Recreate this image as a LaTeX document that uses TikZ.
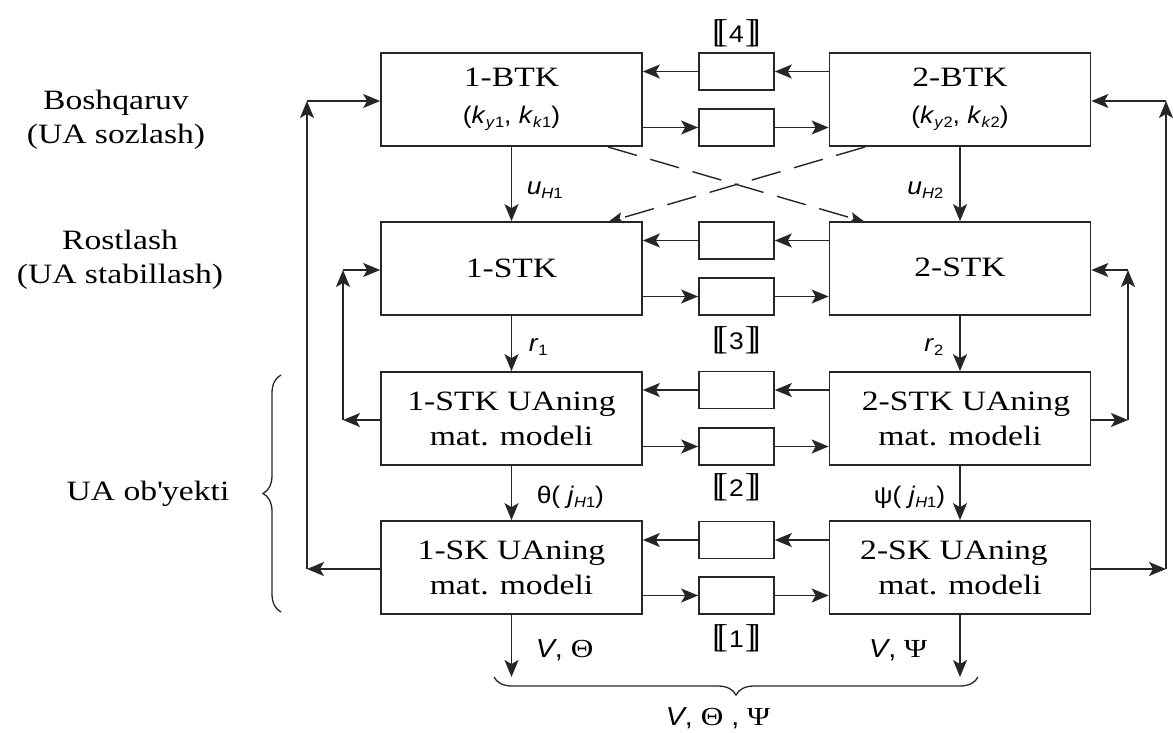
\documentclass[tikz,border=0pt]{standalone}
\usepackage{fontspec}
\setmainfont{Liberation Serif}[FakeStretch=1.2]
\newfontfamily\lab{Liberation Sans}[FakeStretch=1.1]
\newfontfamily\brk{Liberation Serif}
\usetikzlibrary{arrows.meta,decorations.pathreplacing}
\newcommand\lsub[1]{\raisebox{-0.35ex}{\fontsize{15}{17}\selectfont #1}}
\newcommand\dbr[1]{{\brk\fontsize{33}{38}\selectfont[\kern-0.19em[\kern0.03em{\lab\fontsize{24}{28}\selectfont #1}\kern0.03em]\kern-0.19em]}}
\begin{document}
\begin{tikzpicture}[x=1pt,y=-1pt,
  line width=1.6pt, draw=black!85,
  box/.style={draw, line width=1.7pt, minimum width=261pt, minimum height=93pt, inner sep=0pt, align=center, font=\fontsize{28}{35}\selectfont},
  sbox/.style={draw, line width=1.7pt, minimum width=75pt, minimum height=37pt, inner sep=0pt},
  arr/.style={-{Stealth[length=17pt,width=14pt,inset=4pt]}},
  darr/.style={-{Stealth[length=15pt,width=11pt,inset=3pt]}, dash pattern=on 30pt off 14pt, line width=1.4pt},
  lbl/.style={inner sep=0pt, font=\lab\fontsize{24}{28}\selectfont},
  side/.style={inner sep=0pt, align=center, font=\fontsize{28}{34}\selectfont}]
\useasboundingbox (0,0) rectangle (1173,733);

% main boxes
\node[box] (btk1) at (511.5,99.5) {1-BTK\\[2pt]{\lab\fontsize{24}{28}\selectfont(\textit{k}\lsub{\textit{y}1}, \textit{k}\lsub{\textit{k}1})}};
\node[box] (btk2) at (960,99.5) {2-BTK\\[2pt]{\lab\fontsize{24}{28}\selectfont(\textit{k}\lsub{\textit{y}2}, \textit{k}\lsub{\textit{k}2})}};
\node[box] (stk1) at (511.5,268.5) {1-STK};
\node[box] (stk2) at (960,268.5) {\raisebox{3pt}{2-STK}};
\node[box] (ua1) at (511.5,418.5) {1-STK UAning\\mat. modeli};
\node[box] (ua2) at (960,418.5) {\hspace*{12pt}2-STK UAning\\mat. modeli};
\node[box] (sk1) at (511.5,567.5) {1-SK UAning\\mat. modeli};
\node[box] (sk2) at (960,567.5) {2-SK UAning\hspace*{12pt}\\mat. modeli};

% small boxes
\node[sbox] (s1u) at (736.5,71.5) {};
\node[sbox] (s1d) at (736.5,127.5) {};
\node[sbox] (s2u) at (736.5,240.5) {};
\node[sbox] (s2d) at (736.5,296.5) {};
\node[sbox] (s3u) at (736.5,390) {};
\node[sbox] (s3d) at (736.5,446.5) {};
\node[sbox] (s4u) at (736.5,540) {};
\node[sbox] (s4d) at (736.5,595.5) {};

% horizontal links through the small boxes
\foreach \u/\d/\l/\r in {s1u/s1d/btk1/btk2, s2u/s2d/stk1/stk2, s3u/s3d/ua1/ua2, s4u/s4d/sk1/sk2}{
  \draw[arr] (\r.west |- \u) -- (\u.east);
  \draw[arr] (\u.west) -- (\l.east |- \u);
  \draw[arr] (\l.east |- \d) -- (\d.west);
  \draw[arr] (\d.east) -- (\r.west |- \d);
}

% bracket labels
\node[inner sep=0pt] (n4) at (736.5,33) {\dbr{4}};
\node[inner sep=0pt] (n3) at (736.5,340) {\dbr{3}};
\node[inner sep=0pt] (n2) at (736.5,487) {\dbr{2}};
\node[inner sep=0pt] (n1) at (736.5,638) {\dbr{1}};

% vertical links
\draw[arr] (btk1.south) -- (stk1.north);
\draw[arr] (stk1.south) -- (ua1.north);
\draw[arr] (ua1.south) -- (sk1.north);
\draw[arr] (btk2.south) -- (stk2.north);
\draw[arr] (stk2.south) -- (ua2.north);
\draw[arr] (ua2.south) -- (sk2.north);
\coordinate (o1) at (511.5,677);
\coordinate (o2) at (960,677);
\draw[arr] (sk1.south) -- (o1);
\draw[arr] (sk2.south) -- (o2);

% dashed cross links
\coordinate (d1s) at (608,147);
\coordinate (d1e) at (865,222);
\coordinate (d2s) at (865,147);
\coordinate (d2e) at (608,222);
\draw[darr] (d1s) -- (d1e);
\draw[darr] (d2s) -- (d2e);

% outer feedback loops
\coordinate (oL1) at (307,569);
\coordinate (oL2) at (307,101);
\draw[arr] (sk1.west |- oL1) -- (oL1);
\draw[arr] (oL1) -- (oL2);
\draw[arr] (oL2) -- (btk1.west |- oL2);
\coordinate (oR1) at (1166,569);
\coordinate (oR2) at (1166,101);
\draw[arr] (sk2.east |- oR1) -- (oR1);
\draw[arr] (oR1) -- (oR2);
\draw[arr] (oR2) -- (btk2.east |- oR2);

% inner feedback loops
\coordinate (iL1) at (343,420);
\coordinate (iL2) at (343,270);
\draw[arr] (ua1.west |- iL1) -- (iL1);
\draw[arr] (iL1) -- (iL2);
\draw[arr] (iL2) -- (stk1.west |- iL2);
\coordinate (iR1) at (1128,420);
\coordinate (iR2) at (1128,270);
\draw[arr] (ua2.east |- iR1) -- (iR1);
\draw[arr] (iR1) -- (iR2);
\draw[arr] (iR2) -- (stk2.east |- iR2);

% signal labels
\node[lbl, anchor=west] (luh1) at (526,190) {\textit{u}\lsub{\textit{H}1}};
\node[lbl, anchor=east] (luh2) at (944,190) {\textit{u}\lsub{\textit{H}2}};
\node[lbl, anchor=west] (lr1) at (528,347) {\textit{r}\lsub{1}};
\node[lbl, anchor=east] (lr2) at (944,347) {\textit{r}\lsub{2}};
\node[lbl, anchor=west] (lth) at (536,497) {θ( \textit{j}\lsub{\textit{H}1})};
\node[lbl, anchor=east] (lps) at (946,497) {ψ( \textit{j}\lsub{\textit{H}1})};
\node[lbl, anchor=west, font=\lab\fontsize{26}{30}\selectfont] (lvt) at (535,650) {\textit{V}, {\rmfamily Θ}};
\node[lbl, anchor=east, font=\lab\fontsize{26}{30}\selectfont] (lvp) at (928,650) {\textit{V}, {\rmfamily Ψ}};
\node[lbl, font=\lab\fontsize{26}{30}\selectfont] (lall) at (718,718) {\textit{V}, {\rmfamily Θ} , {\rmfamily Ψ}};

% braces
\draw[line width=1.3pt, decorate, decoration={brace, amplitude=18pt}] (978,677) -- (494,677);
\draw[line width=1.3pt, decorate, decoration={brace, amplitude=18pt}] (281,612) -- (281,375);

% side labels
\node[side] (tb) at (116,120) {Boshqaruv\\(UA sozlash)};
\node[side] (tr) at (120,260) {Rostlash\\(UA stabillash)};
\node[side] (tu) at (148,494) {UA ob\textquotesingle yekti};
\end{tikzpicture}
\end{document}
